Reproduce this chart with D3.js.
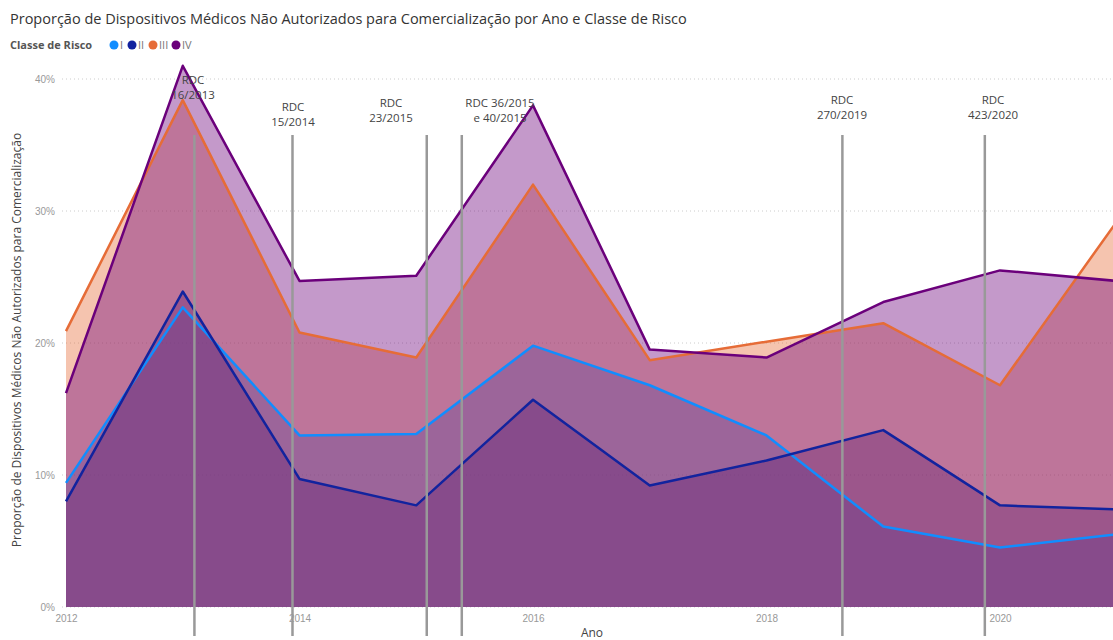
<!DOCTYPE html>
<meta charset="utf-8">
<head>
  <style>
    body { margin: 0; background: #fff; font-family: "Open Sans", sans-serif; }
    .tick text { fill: #999; font-size: 10px; }
    .grid line { stroke: #ccc; stroke-dasharray: 1,3; }
    .annot { fill: #444; font-size: 11.5px; }
  </style>
  <script src="https://cdn.jsdelivr.net/npm/d3@7"></script>
</head>
<body>
  <div id="viz"></div>
</body>
<script>
var years = [2012, 2013, 2014, 2015, 2016, 2017, 2018, 2019, 2020, 2021];
var classes = ["I", "II", "III", "IV"];
var colors = ["#118DFF", "#12239E", "#E66C37", "#6B007B"];

var serieI   = [9.4, 22.7, 13.0, 13.1, 19.8, 16.8, 13.0, 6.1, 4.5, 5.5];
var serieII  = [8.0, 23.9, 9.7, 7.7, 15.7, 9.2, 11.1, 13.4, 7.7, 7.4];
var serieIII = [20.9, 38.4, 20.8, 18.9, 32.0, 18.7, 20.1, 21.5, 16.8, 29.2];
var serieIV  = [16.2, 41.0, 24.7, 25.1, 38.0, 19.5, 18.9, 23.1, 25.5, 24.7];
var series = [serieI, serieII, serieIII, serieIV];

var yTicks = [0, 10, 20, 30, 40];
var xTicks = [2012, 2014, 2016, 2018, 2020];

// marcos regulatorios (posicao em anos fracionarios)
var rdcLabels = [["RDC", "16/2013"], ["RDC", "15/2014"], ["RDC", "23/2015"],
                 ["RDC 36/2015", "e 40/2015"], ["RDC", "270/2019"], ["RDC", "423/2020"]];
var rdcPos = [2013.10, 2013.94, 2015.09, 2015.39, 2018.65, 2019.87];

var W = 1113, H = 640;
var svg = d3.select("#viz").append("svg")
  .attr("width", W).attr("height", H);

var x = d3.scaleLinear().domain([2012, 2020]).range([66, 1000]);
var y = d3.scaleLinear().domain([0, 40]).range([607, 79]);

svg.append("text")
  .attr("x", 10).attr("y", 24)
  .style("font-size", "14.5px").style("fill", "#333")
  .text("Proporção de Dispositivos Médicos Não Autorizados para Comercialização por Ano e Classe de Risco");

// legenda
var leg = svg.append("g").attr("transform", "translate(10,49)");
leg.append("text").attr("x", 0).attr("y", 0)
  .style("font-size", "11px").style("font-weight", "bold").style("fill", "#555")
  .text("Classe de Risco");
var lx = [104, 122, 143, 166];
classes.forEach(function(c, i) {
  leg.append("circle").attr("cx", lx[i]).attr("cy", -4).attr("r", 4.5).attr("fill", colors[i]);
  leg.append("text").attr("x", lx[i] + 6).attr("y", 0)
    .style("font-size", "11px").style("fill", "#777").text(c);
});

// grade
svg.append("g").attr("class", "grid")
  .selectAll("line").data(yTicks).enter().append("line")
    .attr("x1", 62).attr("x2", W)
    .attr("y1", function(d) { return y(d); })
    .attr("y2", function(d) { return y(d); });

svg.append("g").attr("transform", "translate(58,0)")
  .call(d3.axisLeft(y).tickValues(yTicks).tickSize(0).tickFormat(function(d) { return d + "%"; }))
  .call(function(g) { g.select(".domain").remove(); });

svg.append("g").attr("transform", "translate(0,612)")
  .call(d3.axisBottom(x).tickValues(xTicks).tickSize(0).tickFormat(d3.format("d")))
  .call(function(g) { g.select(".domain").remove(); });

svg.append("text")
  .attr("transform", "translate(21,340) rotate(-90)")
  .attr("text-anchor", "middle")
  .style("font-size", "12px").style("fill", "#444")
  .text("Proporção de Dispositivos Médicos Não Autorizados para Comercialização");

svg.append("text")
  .attr("x", 592).attr("y", 637).attr("text-anchor", "middle")
  .style("font-size", "12px").style("fill", "#444")
  .text("Ano");

var area = d3.area()
  .x(function(d, i) { return x(years[i]); })
  .y0(y(0))
  .y1(function(d) { return y(d); });
var line = d3.line()
  .x(function(d, i) { return x(years[i]); })
  .y(function(d) { return y(d); });

svg.selectAll(".area").data(series).enter().append("path")
  .attr("class", "area")
  .attr("d", area)
  .attr("fill", function(d, i) { return colors[i]; })
  .attr("fill-opacity", 0.4);

svg.selectAll(".serie").data(series).enter().append("path")
  .attr("class", "serie")
  .attr("d", line)
  .attr("fill", "none")
  .attr("stroke", function(d, i) { return colors[i]; })
  .attr("stroke-width", 2.5)
  .attr("stroke-linejoin", "round");

// linhas verticais dos marcos
svg.selectAll(".rdc").data(rdcPos).enter().append("line")
  .attr("class", "rdc")
  .attr("x1", function(d) { return x(d); })
  .attr("x2", function(d) { return x(d); })
  .attr("y1", 135).attr("y2", 636)
  .attr("stroke", "#999").attr("stroke-width", 2.5);

var labOff = [[193, 84], [293, 111], [391, 107], [500, 107], [842, 104], [993, 104]];
rdcLabels.forEach(function(l, i) {
  var t = svg.append("text").attr("class", "annot").attr("text-anchor", "middle");
  l.forEach(function(s, j) {
    t.append("tspan").attr("x", labOff[i][0]).attr("y", labOff[i][1] + j * 15).text(s);
  });
});
</script>
